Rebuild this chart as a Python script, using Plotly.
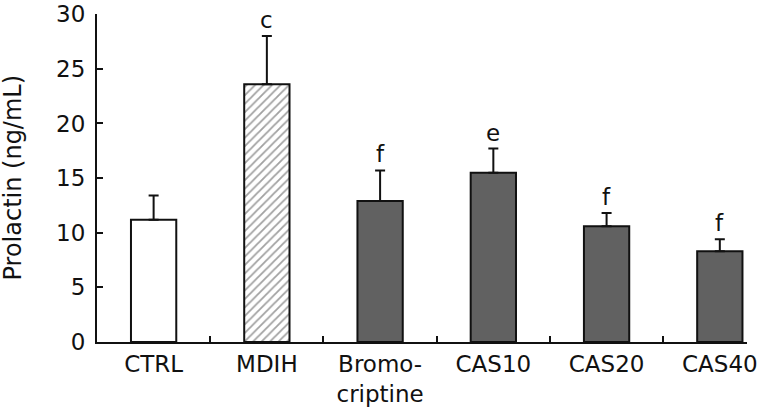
import plotly.graph_objects as go

categories = ["CTRL", "MDIH", "Bromo-<br>criptine", "CAS10", "CAS20", "CAS40"]
means = [11.2, 23.6, 12.9, 15.5, 10.6, 8.3]
errors = [2.2, 4.4, 2.8, 2.2, 1.2, 1.1]
letters = ["", "c", "f", "e", "f", "f"]
y_ticks = [0, 5, 10, 15, 20, 25, 30]

fill_colors = ["white", "white", "#616161", "#616161", "#616161", "#616161"]
pattern_shapes = ["", "/", "", "", "", ""]

FONT = "DejaVu Sans"

fig = go.Figure()
fig.add_trace(go.Bar(
    x=categories,
    y=means,
    width=0.4,
    marker=dict(
        color=fill_colors,
        line=dict(color="#111111", width=2),
        pattern=dict(shape=pattern_shapes, fgcolor="#9a9a9a", bgcolor="white",
                     size=6, solidity=0.3),
    ),
    error_y=dict(type="data", array=errors, arrayminus=[0] * len(errors),
                 symmetric=False, color="#111111", thickness=2, width=5),
    showlegend=False,
))

for cat, m, e, lt in zip(categories, means, errors, letters):
    if lt:
        fig.add_annotation(x=cat, y=m + e, text=lt, showarrow=False,
                           yanchor="bottom", yshift=1,
                           font=dict(family=FONT, size=23, color="#111111"))

fig.add_annotation(xref="paper", yref="paper", x=-0.13, y=0.5,
                   text="Prolactin (ng/mL)", textangle=-90, showarrow=False,
                   xanchor="center", yanchor="middle",
                   font=dict(family=FONT, size=24, color="#111111"))

fig.update_layout(
    width=757, height=415,
    margin=dict(l=97, r=10, t=14, b=73, autoexpand=False),
    plot_bgcolor="white", paper_bgcolor="white",
    xaxis=dict(
        type="category", range=[-0.5, 5.24], automargin=False,
        showline=True, linecolor="#111111", linewidth=2,
        ticks="inside", ticklen=6, tickwidth=2, tickcolor="#111111",
        tickson="boundaries", showgrid=False,
        tickfont=dict(family=FONT, size=23, color="#111111"),
    ),
    yaxis=dict(
        range=[0, 30.02], tickvals=y_ticks, automargin=False,
        showline=True, linecolor="#111111", linewidth=2,
        ticks="inside", ticklen=6, tickwidth=2, tickcolor="#111111",
        showgrid=False, zeroline=False,
        tickfont=dict(family=FONT, size=23, color="#111111"),
        ticklabelstandoff=5, ticklabeloverflow="allow",
    ),
)

fig.write_html("out.html", config={"displayModeBar": False},
               post_script="document.body.style.margin='0px';")
